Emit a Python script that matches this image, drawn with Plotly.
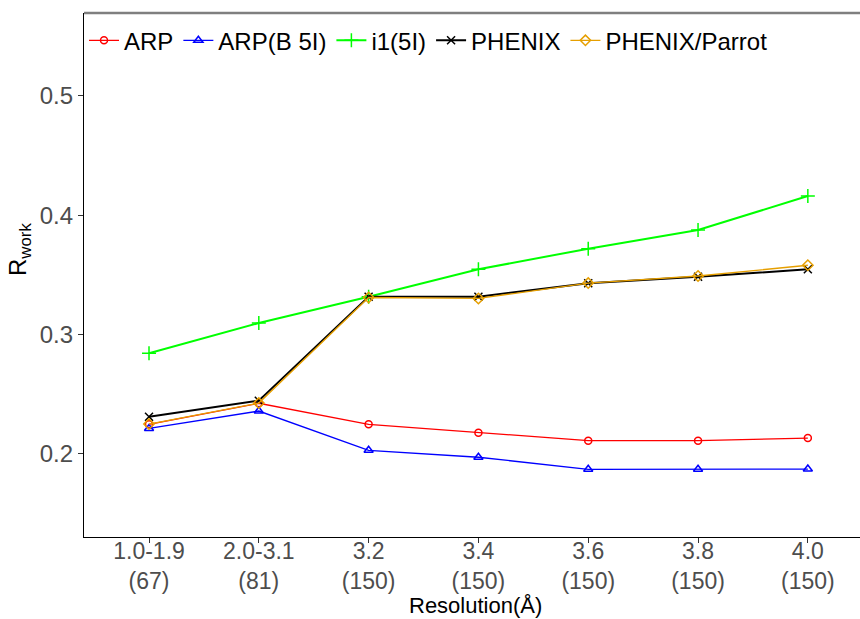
import plotly.graph_objects as go

categories = ["1.0-1.9<br>(67)", "2.0-3.1<br>(81)", "3.2<br>(150)", "3.4<br>(150)",
              "3.6<br>(150)", "3.8<br>(150)", "4.0<br>(150)"]
arp = [0.2248, 0.2424, 0.2248, 0.2178, 0.2111, 0.2111, 0.2133]
arp_b5i = [0.2213, 0.2359, 0.2030, 0.1972, 0.1871, 0.1871, 0.1873]
i1_5i = [0.2843, 0.3096, 0.3317, 0.3546, 0.3719, 0.3875, 0.4160]
phenix = [0.2312, 0.2446, 0.3317, 0.3317, 0.3429, 0.3484, 0.3546]
phenix_parrot = [0.2250, 0.2426, 0.3310, 0.3302, 0.3431, 0.3490, 0.3580]
y_ticks = [0.2, 0.3, 0.4, 0.5]

xpos = list(range(len(categories)))

series = [
    ("ARP", arp, "#FF0000", "circle-open", 1.3, 7),
    ("ARP(B 5I)", arp_b5i, "#0000FF", "triangle-up-open", 1.3, 8),
    ("i1(5I)", i1_5i, "#00FF00", "cross-thin-open", 2.0, 10),
    ("PHENIX", phenix, "#000000", "x-thin-open", 2.0, 8),
    ("PHENIX/Parrot", phenix_parrot, "#E69F00", "diamond-open", 1.3, 8),
]

fig = go.Figure()
for name, vals, col, sym, lw, ms in series:
    fig.add_trace(go.Scatter(
        x=xpos, y=vals, name=name, mode="lines+markers",
        line=dict(color=col, width=lw),
        marker=dict(symbol=sym, size=ms, color=col, line=dict(color=col, width=1.5)),
    ))

W, H = 860, 619
L, R, T, B = 84, 0, 13, 82
pw, ph = W - L - R, H - T - B

fig.update_layout(
    width=W, height=H,
    margin=dict(l=L, r=R, t=T, b=B),
    paper_bgcolor="white", plot_bgcolor="white",
    font=dict(family="Liberation Sans, Arial, sans-serif", color="black"),
    showlegend=True,
    legend=dict(orientation="h", x=0, xanchor="left", y=0.99, yanchor="top",
                font=dict(size=24, color="black"), bgcolor="rgba(0,0,0,0)",
                itemwidth=30, tracegroupgap=0),
    xaxis=dict(
        tickmode="array", tickvals=xpos, ticktext=categories,
        range=[-0.592, 6.475], showgrid=False, zeroline=False,
        showline=True, linecolor="black", linewidth=1.2,
        ticks="outside", ticklen=5, tickcolor="#333333", tickwidth=1.2,
        tickfont=dict(size=23, color="#4D4D4D"),
        ticklabelstandoff=-12,
    ),
    yaxis=dict(
        tickmode="array", tickvals=y_ticks, ticktext=[f"{v:.1f}" for v in y_ticks],
        range=[0.1304, 0.5693], showgrid=False, zeroline=False,
        showline=True, linecolor="black", linewidth=1.2,
        ticks="outside", ticklen=5, tickcolor="#333333", tickwidth=1.2,
        tickfont=dict(size=24, color="#4D4D4D"),
    ),
)

# top border (grey)
fig.add_shape(type="line", xref="paper", yref="paper", x0=0, x1=1, y0=1, y1=1,
              line=dict(color="#7F7F7F", width=2.5))

# axis titles
fig.add_annotation(text="Resolution(Å)", xref="paper", yref="paper",
                   x=(475 - L) / pw, y=-(605 - (H - B)) / ph,
                   xanchor="center", yanchor="middle", showarrow=False,
                   font=dict(size=22, color="black"))
fig.add_annotation(text="R<sub>work</sub>", xref="paper", yref="paper",
                   x=(20 - L) / pw, y=(H - B - 250) / ph,
                   xanchor="center", yanchor="middle", showarrow=False, textangle=-90,
                   font=dict(size=24, color="black"))

fig.write_html("out.html")
